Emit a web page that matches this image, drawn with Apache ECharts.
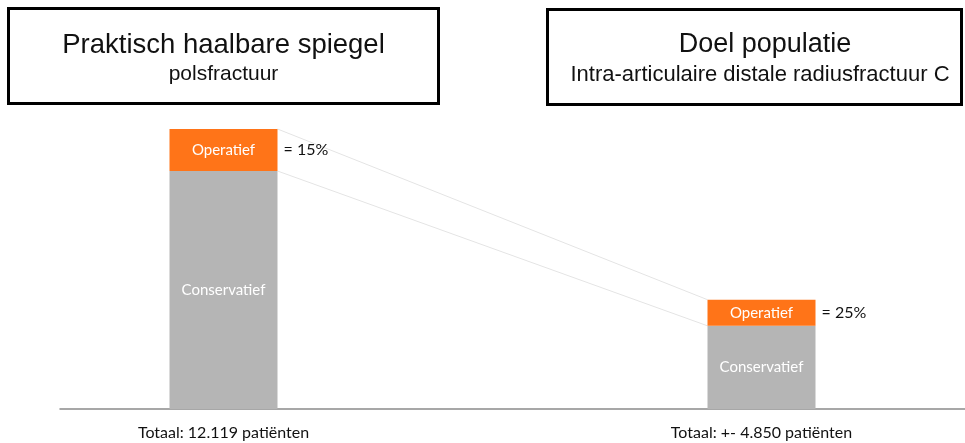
<!DOCTYPE html>
<html>
<head>
<meta charset="utf-8">
<script src="https://cdn.jsdelivr.net/npm/echarts@6/dist/echarts.min.js"></script>
<style>html,body{margin:0;padding:0;background:#fff;}#c{width:965px;height:443px;}</style>
</head>
<body>
<div id="c"></div>
<script>
const categories = ['Totaal: 12.119 patiënten', 'Totaal: +- 4.850 patiënten'];
const conservatief = [10301, 3600];
const operatief = [1818, 1130];
const percentLabels = ['= 15%', '= 25%'];
const titleMain = ['Praktisch haalbare spiegel', 'Doel populatie'];
const titleSub = ['polsfractuur', 'Intra-articulaire distale radiusfractuur C'];

const BAR_W = 108;
const ORANGE = '#FF7418';
const GREY = '#B5B5B5';
const LBL_FONT = 'Lato';

const totals = conservatief.map((v, i) => v + operatief[i]);
const connectors = [
  [0, totals[0], 1, totals[1]],
  [0, conservatief[0], 1, conservatief[1]]
];
const pctData = categories.map((c, i) => [i, conservatief[i] + operatief[i] / 2, percentLabels[i]]);

const chart = echarts.init(document.getElementById('c'));
chart.setOption({
  animation: false,
  grid: [
    { left: -45.5, right: -65.5, top: 129, bottom: 34, outerBoundsMode: 'none', containLabel: false },
    { left: 60, right: 0, top: 129, bottom: 34, outerBoundsMode: 'none', containLabel: false }
  ],
  xAxis: [
    {
      type: 'category', data: categories, gridIndex: 0,
      axisLine: { show: false }, axisTick: { show: false },
      axisLabel: { margin: 16, color: '#111', fontFamily: LBL_FONT, fontSize: 16 }
    },
    {
      type: 'value', gridIndex: 1, min: 0, max: 1,
      axisLine: { show: true, onZero: false, lineStyle: { color: '#8a8a8a', width: 1.5 } },
      axisTick: { show: false }, axisLabel: { show: false }, splitLine: { show: false }
    }
  ],
  yAxis: [
    { type: 'value', gridIndex: 0, min: 0, max: 12119, show: false },
    { type: 'value', gridIndex: 1, min: 0, max: 1, show: false }
  ],
  series: [
    {
      name: 'Conservatief', type: 'bar', stack: 'a', barWidth: BAR_W,
      data: conservatief, itemStyle: { color: GREY },
      label: { show: true, position: 'inside', formatter: 'Conservatief', color: '#fff', fontFamily: LBL_FONT, fontSize: 15 }
    },
    {
      name: 'Operatief', type: 'bar', stack: 'a', barWidth: BAR_W,
      data: operatief, itemStyle: { color: ORANGE },
      label: { show: true, position: 'inside', formatter: 'Operatief', color: '#fff', fontFamily: LBL_FONT, fontSize: 15 }
    },
    {
      type: 'custom', silent: true, z: 1,
      data: connectors,
      encode: { x: [0, 2], y: [1, 3] },
      renderItem: function (params, api) {
        const p1 = api.coord([api.value(0), api.value(1)]);
        const p2 = api.coord([api.value(2), api.value(3)]);
        return {
          type: 'line',
          shape: { x1: p1[0] + BAR_W / 2, y1: p1[1], x2: p2[0] - BAR_W / 2, y2: p2[1] },
          style: { stroke: '#e4e4e4', lineWidth: 1 }
        };
      }
    },
    {
      type: 'custom', silent: true,
      data: pctData,
      encode: { x: 0, y: 1 },
      renderItem: function (params, api) {
        const p = api.coord([api.value(0), api.value(1)]);
        return {
          type: 'text',
          style: {
            x: p[0] + BAR_W / 2 + 6, y: p[1],
            text: pctData[params.dataIndex][2],
            fill: '#111', fontFamily: LBL_FONT, fontSize: 16,
            textAlign: 'left', textVerticalAlign: 'middle'
          }
        };
      }
    }
  ],
  graphic: [
    { type: 'rect', shape: { x: 8.5, y: 8.5, width: 430, height: 95 }, style: { fill: '#fff', stroke: '#000', lineWidth: 3 } },
    { type: 'rect', shape: { x: 547.5, y: 9.5, width: 414, height: 95 }, style: { fill: '#fff', stroke: '#000', lineWidth: 3 } },
    { type: 'text', style: { x: 223.5, y: 45, text: titleMain[0], fill: '#111', fontFamily: 'Liberation Sans', fontSize: 27.5, textAlign: 'center', textVerticalAlign: 'middle' } },
    { type: 'text', style: { x: 223.5, y: 74, text: titleSub[0], fill: '#111', fontFamily: 'Liberation Sans', fontSize: 21, textAlign: 'center', textVerticalAlign: 'middle' } },
    { type: 'text', style: { x: 765, y: 45, text: titleMain[1], fill: '#111', fontFamily: 'Liberation Sans', fontSize: 27, textAlign: 'center', textVerticalAlign: 'middle' } },
    { type: 'text', style: { x: 760, y: 75, text: titleSub[1], fill: '#111', fontFamily: 'Liberation Sans', fontSize: 22, textAlign: 'center', textVerticalAlign: 'middle' } }
  ]
});
</script>
</body>
</html>
